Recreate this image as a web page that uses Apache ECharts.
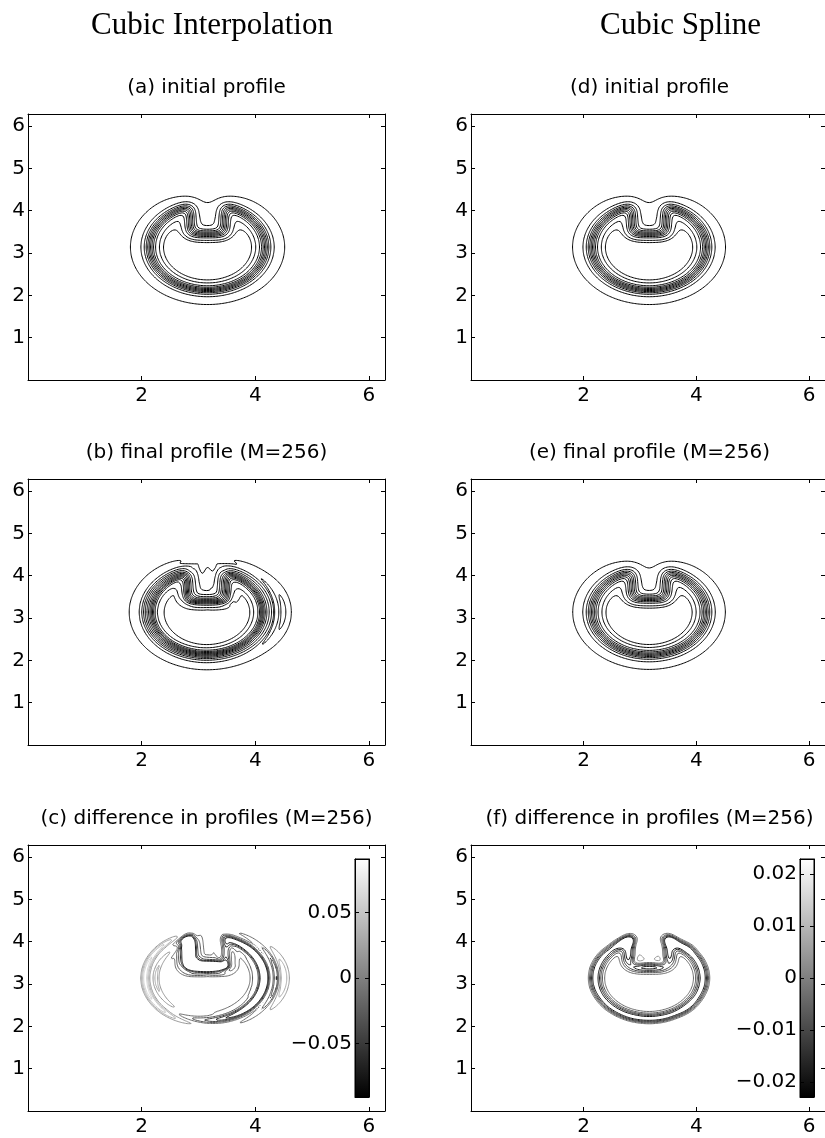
<!DOCTYPE html>
<html>
<head>
<meta charset="utf-8">
<script src="https://cdn.jsdelivr.net/npm/echarts@6/dist/echarts.min.js"></script>
<style>
  html, body { margin: 0; padding: 0; background: #fff; }
  #grafico { width: 825px; height: 1138px; }
</style>
</head>
<body>
<div id="grafico"></div>
<script>
// Datos
const rango = [0, 2 * Math.PI];
const ticksX = [2, 4, 6];
const ticksY = [1, 2, 3, 4, 5, 6];
const titulosColumna = ['Cubic Interpolation', 'Cubic Spline'];
const titulosPanel = [
    '(a) initial profile', '(b) final profile (M=256)', '(c) difference in profiles (M=256)',
    '(d) initial profile', '(e) final profile (M=256)', '(f) difference in profiles (M=256)'
];
// disco ranurado: centro x, centro y, radio
const disco = [3.16, 3.14, 1.02];
// ranura: semiancho, fondo (y)
const ranura = [0.3, 3.45];
// perfil = peso * borde suave de ancho sigma (borde nítido + cola ancha)
const pesos = [0.85, 0.15];
const anchoCola = 0.25;
// ancho del borde nítido: inicial, final cúbico, final spline
const anchoBorde = [0.09, 0.095, 0.095];
// contracción de los perfiles finales: cúbico, spline
const contraccion = [0.008, 0.004];
// perfil final cúbico: desplazamiento x, desplazamiento y, semiancho de ranura, fondo de ranura
const deformacionB = [-0.02, 0.0, 0.32, 3.41];
// ondulación de la interpolación cúbica: amplitud, longitud de onda, ancho, fase
const ondulacion = [0.032, 0.22, 0.25, 0.035];
// peso angular de la ondulación: base, cos^2
const pesoAngular = [0.4, 0.6];
// lóbulos del lado derecho (b): amplitud, distancia al borde, ancho
const lobuloAmp = [0.04, -0.04];
const lobuloPos = [0.33, 0.19];
const lobuloAncho = [0.1, 0.05];
const lobuloAngulo = 0.55;
// niveles de contorno
const nivelesPerfil = [0.011, 0.071, 0.165, 0.26, 0.355, 0.45, 0.545, 0.64, 0.735, 0.83, 0.929, 0.966];
const nivelesPerfilB = [0.011, 0.045, 0.12, 0.2, 0.28, 0.36, 0.44, 0.52, 0.6, 0.68, 0.76, 0.84, 0.92, 0.96];
const nivelesDifC = [-0.075, -0.06, -0.045, -0.03, -0.015, 0.015, 0.03, 0.045, 0.06, 0.075];
const nivelesDifF = [-0.02, -0.016, -0.012, -0.008, -0.004, 0.004, 0.008, 0.012, 0.016, 0.02];
// barras de color
const barraC = [-0.091, 0.091];
const marcasC = [-0.05, 0, 0.05];
const barraF = [-0.0229, 0.0229];
const marcasF = [-0.02, -0.01, 0, 0.01, 0.02];

// MALLA
const N = 241;
const h = (rango[1] - rango[0]) / (N - 1);
const X = Array.from({ length: N }, (_, i) => rango[0] + i * h);

// distancia con signo al disco ranurado (negativa dentro)
function distancia(x, y, cx, cy, r, a, yb) {
    const dd = Math.hypot(x - cx, y - cy) - r;
    const qx = Math.abs(x - cx) - a;
    const qy = yb - y;
    const sb = Math.hypot(Math.max(qx, 0), Math.max(qy, 0)) + Math.min(Math.max(qx, qy), 0);
    return Math.max(dd, -sb);
}

function desenfocar(f, s) {
    const R = Math.ceil(4.5 * s);
    const k = [];
    let tot = 0;
    for (let t = -R; t <= R; t++) { const v = Math.exp(-0.5 * (t / s) ** 2); k.push(v); tot += v; }
    for (let t = 0; t < k.length; t++) k[t] /= tot;
    const tmp = new Float64Array(N * N);
    const out = new Float64Array(N * N);
    for (let j = 0; j < N; j++) {
        for (let i = 0; i < N; i++) {
            let acc = 0;
            for (let t = -R; t <= R; t++) {
                const ii = i + t;
                if (ii >= 0 && ii < N) acc += f[j * N + ii] * k[t + R];
            }
            tmp[j * N + i] = acc;
        }
    }
    for (let j = 0; j < N; j++) {
        for (let i = 0; i < N; i++) {
            let acc = 0;
            for (let t = -R; t <= R; t++) {
                const jj = j + t;
                if (jj >= 0 && jj < N) acc += tmp[jj * N + i] * k[t + R];
            }
            out[j * N + i] = acc;
        }
    }
    return out;
}

function indicador(cx, cy, r, a, yb, encoger) {
    const ind = new Float64Array(N * N);
    for (let j = 0; j < N; j++) {
        for (let i = 0; i < N; i++) {
            const s = distancia(X[i], X[j], cx, cy, r, a, yb) + (encoger || 0);
            ind[j * N + i] = Math.min(1, Math.max(0, 0.5 - s / h));
        }
    }
    return ind;
}

function mezclar(nitido, cola) {
    return nitido.map((v, k) => pesos[0] * v + pesos[1] * cola[k]);
}

// marching squares, devuelve polilíneas en coordenadas de datos
function curvasNivel(F, nivel) {
    const vecinos = new Map();
    const unir = (a, b) => {
        if (!vecinos.has(a)) vecinos.set(a, []);
        if (!vecinos.has(b)) vecinos.set(b, []);
        vecinos.get(a).push(b);
        vecinos.get(b).push(a);
    };
    for (let j = 0; j < N - 1; j++) {
        for (let i = 0; i < N - 1; i++) {
            const v0 = F[j * N + i], v1 = F[j * N + i + 1], v2 = F[(j + 1) * N + i + 1], v3 = F[(j + 1) * N + i];
            const c = (v0 >= nivel ? 1 : 0) | (v1 >= nivel ? 2 : 0) | (v2 >= nivel ? 4 : 0) | (v3 >= nivel ? 8 : 0);
            if (c === 0 || c === 15) continue;
            const e0 = 2 * (j * N + i), e1 = 2 * (j * N + i + 1) + 1, e2 = 2 * ((j + 1) * N + i), e3 = 2 * (j * N + i) + 1;
            if (c === 5 || c === 10) {
                const centro = (v0 + v1 + v2 + v3) / 4 >= nivel;
                if ((c === 5) === centro) { unir(e0, e1); unir(e2, e3); } else { unir(e3, e0); unir(e1, e2); }
            } else {
                const b = [c & 1, (c >> 1) & 1, (c >> 2) & 1, (c >> 3) & 1];
                const cruces = [];
                if (b[0] !== b[1]) cruces.push(e0);
                if (b[1] !== b[2]) cruces.push(e1);
                if (b[2] !== b[3]) cruces.push(e2);
                if (b[3] !== b[0]) cruces.push(e3);
                unir(cruces[0], cruces[1]);
            }
        }
    }
    const punto = e => {
        const k = e >> 1, i = k % N, j = (k - i) / N;
        if ((e & 1) === 0) {
            const t = (nivel - F[k]) / (F[k + 1] - F[k]);
            return [X[i] + t * h, X[j]];
        }
        const t = (nivel - F[k]) / (F[k + N] - F[k]);
        return [X[i], X[j] + t * h];
    };
    const visitado = new Set();
    const lineas = [];
    const recorrer = inicio => {
        const camino = [inicio];
        visitado.add(inicio);
        let actual = inicio;
        while (true) {
            const vs = vecinos.get(actual);
            let sig = -1;
            for (const v of vs) if (!visitado.has(v)) { sig = v; break; }
            if (sig < 0) {
                if (camino.length > 2 && vs.includes(inicio)) camino.push(inicio);
                break;
            }
            visitado.add(sig);
            camino.push(sig);
            actual = sig;
        }
        lineas.push(camino.map(punto));
    };
    for (const [e, vs] of vecinos) if (vs.length === 1 && !visitado.has(e)) recorrer(e);
    for (const [e] of vecinos) if (!visitado.has(e)) recorrer(e);
    return lineas;
}

// CAMPOS
const [cx, cy, rd] = disco;
const [ra, rb] = ranura;
const Ia = indicador(cx, cy, rd, ra, rb, 0);
const colaA = desenfocar(Ia, anchoCola / h);
const Fa = mezclar(desenfocar(Ia, anchoBorde[0] / h), colaA);
const Ie = indicador(cx, cy, rd, ra, rb, contraccion[1]);
const Fe = mezclar(desenfocar(Ie, anchoBorde[2] / h), desenfocar(Ie, anchoCola / h));
const Ib = indicador(cx + deformacionB[0], cy + deformacionB[1], rd, deformacionB[2], deformacionB[3], contraccion[0]);
const Fb = mezclar(desenfocar(Ib, anchoBorde[1] / h), desenfocar(Ib, anchoCola / h));
const [amp, lam, anchoOnda, fase] = ondulacion;
for (let j = 0; j < N; j++) {
    for (let i = 0; i < N; i++) {
        const d = distancia(X[i], X[j], cx, cy, rd, ra, rb);
        const th = Math.atan2(X[j] - cy, X[i] - cx);
        const c = Math.cos(th);
        const w = pesoAngular[0] + pesoAngular[1] * c * c;
        let extra = amp * w * Math.sin(2 * Math.PI * (d - fase) / lam) * Math.exp(-((d / anchoOnda) ** 2));
        const wl = Math.exp(-((th / lobuloAngulo) ** 2));
        lobuloAmp.forEach((A, q) => {
            extra += A * wl * Math.exp(-(((d - lobuloPos[q]) / lobuloAncho[q]) ** 2));
        });
        Fb[j * N + i] += extra;
    }
}
const Dc = Fa.map((v, k) => Fb[k] - v);
const Df = Fa.map((v, k) => Fe[k] - v);

// PANELES
const columnas = [{ left: 28, width: 357 }, { left: 471, width: 358 }];
const filas = [114, 479, 845];
const altoPanel = 266;
const fuente = 'DejaVu Sans';

const paneles = [
    { campo: Fa, niveles: nivelesPerfil },
    { campo: Fb, niveles: nivelesPerfilB },
    { campo: Dc, niveles: nivelesDifC, barra: barraC, marcas: marcasC, barraLeft: 355 },
    { campo: Fa, niveles: nivelesPerfil },
    { campo: Fe, niveles: nivelesPerfil },
    { campo: Df, niveles: nivelesDifF, barra: barraF, marcas: marcasF, barraLeft: 800 }
];

function gris(v, barra) {
    const t = Math.min(1, Math.max(0, (v - barra[0]) / (barra[1] - barra[0])));
    const g = Math.round(t * 255);
    return `rgb(${g},${g},${g})`;
}

function formatoNumero(v) {
    return v < 0 ? '\u2212' + String(-v) : String(v);
}

function ejeX(grid, posicion, etiquetas, marcas, min, max) {
    return {
        type: 'value', gridIndex: grid, position: posicion, min: min, max: max, z: 5,
        axisLine: { show: true, onZero: false, lineStyle: { color: '#000', width: 1 } },
        axisTick: { show: marcas !== null, inside: true, length: 4, customValues: marcas || [], lineStyle: { color: '#000' } },
        axisLabel: { show: etiquetas, customValues: marcas || [], margin: 6, color: '#000', fontFamily: fuente, fontSize: 20 },
        splitLine: { show: false }
    };
}

function ejeY(grid, posicion, etiquetas, marcas, min, max, margen) {
    return {
        type: 'value', gridIndex: grid, position: posicion, min: min, max: max, z: 5,
        axisLine: { show: true, onZero: false, lineStyle: { color: '#000', width: 1 } },
        axisTick: { show: true, inside: true, length: 4, customValues: marcas, lineStyle: { color: '#000' } },
        axisLabel: { show: etiquetas, customValues: marcas, margin: margen, color: '#000', fontFamily: fuente, fontSize: 20, formatter: formatoNumero },
        splitLine: { show: false }
    };
}

const grids = [], xAxes = [], yAxes = [], series = [], textos = [];

paneles.forEach((p, n) => {
    const col = columnas[Math.floor(n / 3)];
    const top = filas[n % 3];
    grids.push({ left: col.left, top: top, width: col.width, height: altoPanel });
    xAxes.push(ejeX(n, 'bottom', true, ticksX, rango[0], rango[1]));
    xAxes.push(ejeX(n, 'top', false, ticksX, rango[0], rango[1]));
    yAxes.push(ejeY(n, 'left', true, ticksY, rango[0], rango[1], 3));
    yAxes.push(ejeY(n, 'right', false, ticksY, rango[0], rango[1], 3));
    p.niveles.forEach(nivel => {
        const lineas = curvasNivel(p.campo, nivel);
        series.push({
            type: 'lines', coordinateSystem: 'cartesian2d', polyline: true,
            xAxisIndex: 2 * n, yAxisIndex: 2 * n, silent: true, animation: false,
            lineStyle: { color: p.barra ? gris(nivel, p.barra) : '#000', width: 1, opacity: 1 },
            data: lineas.map(c => ({ coords: c }))
        });
    });
    textos.push({
        type: 'text', x: col.left + 178.5, y: top - 26,
        style: { text: titulosPanel[n], font: `20px "${fuente}"`, fill: '#000', textAlign: 'center', textVerticalAlign: 'middle', align: 'center', verticalAlign: 'middle' }
    });
});

// barras de color
paneles.forEach((p, n) => {
    if (!p.barra) return;
    const g = grids.length;
    grids.push({ left: p.barraLeft, top: 859, width: 14, height: 238 });
    const xi = xAxes.length, yi = yAxes.length;
    xAxes.push(ejeX(g, 'bottom', false, null, 0, 1));
    xAxes.push(ejeX(g, 'top', false, null, 0, 1));
    yAxes.push(ejeY(g, 'left', true, p.marcas, p.barra[0], p.barra[1], 3));
    yAxes.push(ejeY(g, 'right', false, p.marcas, p.barra[0], p.barra[1], 3));
    series.push({
        type: 'custom', xAxisIndex: xi, yAxisIndex: yi, silent: true, animation: false, z: 1,
        data: [[0, p.barra[0], 1, p.barra[1]]],
        renderItem: (params, api) => {
            const a = api.coord([api.value(0), api.value(3)]);
            const b = api.coord([api.value(2), api.value(1)]);
            return {
                type: 'rect',
                shape: { x: a[0], y: a[1], width: b[0] - a[0], height: b[1] - a[1] },
                style: {
                    stroke: '#000', lineWidth: 1,
                    fill: new echarts.graphic.LinearGradient(0, 0, 0, 1, [
                        { offset: 0, color: '#ffffff' },
                        { offset: 1, color: '#000000' }
                    ])
                }
            };
        }
    });
});

titulosColumna.forEach((t, n) => {
    textos.push({
        type: 'text', x: [212, 680.5][n], y: 26,
        style: { text: t, font: '31px "Liberation Serif"', fill: '#000', textAlign: 'center', textVerticalAlign: 'middle', align: 'center', verticalAlign: 'middle' }
    });
});

const chartDom = document.getElementById('grafico');
const myChart = echarts.init(chartDom, null, { renderer: 'canvas' });
myChart.setOption({
    animation: false,
    backgroundColor: '#fff',
    grid: grids,
    xAxis: xAxes,
    yAxis: yAxes,
    series: series,
    graphic: { elements: textos }
});
</script>
</body>
</html>
